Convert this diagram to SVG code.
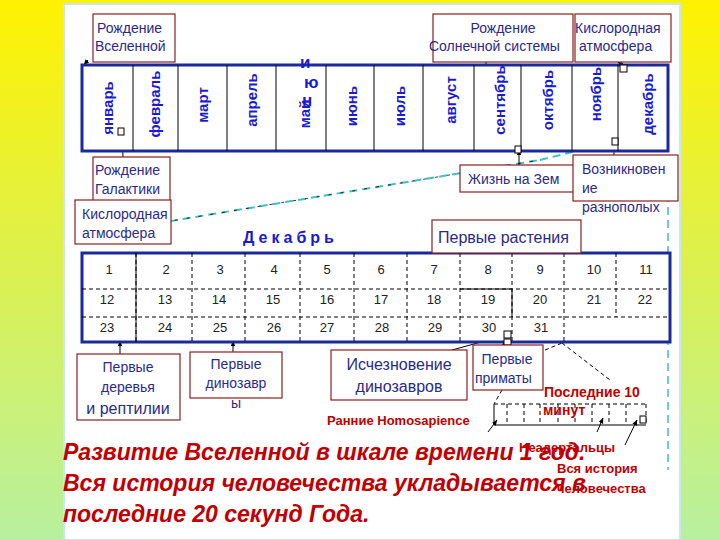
<svg xmlns="http://www.w3.org/2000/svg" width="720" height="540" viewBox="0 0 720 540">
<defs>
<linearGradient id="bg" x1="0" y1="0" x2="0" y2="1"><stop offset="0" stop-color="#fff200"/><stop offset="1" stop-color="#b8f0a0"/></linearGradient>
<marker id="ar" viewBox="0 0 10 10" refX="9" refY="5" markerWidth="6" markerHeight="6" orient="auto"><path d="M0,1 L10,5 L0,9 z" fill="#000"/></marker>
<style>
.box{fill:#fff;stroke:#8b2020;stroke-width:1.2}
.lb{font-family:"Liberation Sans",sans-serif;font-size:14px;fill:#2a2a8a}
.mo{font-family:"Liberation Sans",sans-serif;font-size:15px;font-weight:bold;fill:#1a1ad0}
.dn{font-family:"Liberation Sans",sans-serif;font-size:13px;fill:#222}
.red{font-family:"Liberation Sans",sans-serif;font-weight:bold;fill:#c00000}
.big{font-family:"Liberation Sans",sans-serif;font-weight:bold;font-style:italic;font-size:23px;fill:#c00000}
.thin{stroke:#000;stroke-width:1;fill:none}
.dash{stroke:#000;stroke-width:1;stroke-dasharray:4,3;fill:none}
</style>
</defs>
<rect width="720" height="540" fill="url(#bg)"/>
<rect x="64" y="4" width="616" height="536" fill="#fff" stroke="#c8e8f0" stroke-width="2"/>
<g id="connectors">
<path d="M80,236 L540,160 M540,160 L580,150" stroke="#40c0c0" stroke-width="2" stroke-dasharray="8,5" fill="none"/>
<path d="M80,236 L540,160" stroke="#000" stroke-width="0.8" stroke-dasharray="3,9" fill="none"/>
<path d="M668,155 L668,470" stroke="#40c0c0" stroke-width="1.5" stroke-dasharray="8,5" fill="none"/>
<line x1="88" y1="60" x2="84" y2="65" class="thin" marker-end="url(#ar)"/>
<line x1="123" y1="157" x2="122" y2="137" class="thin" marker-end="url(#ar)"/>
<line x1="486" y1="62" x2="486" y2="75" class="thin" marker-end="url(#ar)"/>
<line x1="618" y1="140" x2="618" y2="72" class="thin"/>
<line x1="627" y1="68" x2="618" y2="62" class="thin" marker-end="url(#ar)"/>
<line x1="519" y1="165" x2="519" y2="150" class="thin" marker-end="url(#ar)"/>
<line x1="614" y1="155" x2="614" y2="142" class="thin" marker-end="url(#ar)"/>
<line x1="476" y1="250" x2="481" y2="290" class="thin" marker-end="url(#ar)"/>
<line x1="120" y1="354" x2="120" y2="341" class="thin" marker-end="url(#ar)"/>
<line x1="233" y1="352" x2="233" y2="341" class="thin" marker-end="url(#ar)"/>
<line x1="452" y1="350" x2="503" y2="336" class="thin" marker-end="url(#ar)"/>
<line x1="504" y1="345" x2="505" y2="341" class="thin" marker-end="url(#ar)"/>
<line x1="545" y1="350" x2="562" y2="343" class="dash"/>
<line x1="562" y1="343" x2="610" y2="380" class="dash"/>
<line x1="502" y1="390" x2="494" y2="404" class="dash"/>
<line x1="488" y1="432" x2="497" y2="420" class="thin" marker-end="url(#ar)"/>
<line x1="597" y1="432" x2="603" y2="418" class="thin" marker-end="url(#ar)"/>
<line x1="625" y1="445" x2="637" y2="420" class="thin" marker-end="url(#ar)"/>
</g>
<g id="months">
<rect x="82" y="65" width="586" height="86" fill="#fff" stroke="#1a2a9a" stroke-width="3"/>
<path d="M133,65V151M178,65V151M227,65V151M276,65V151M326,65V151M374,65V151M423,65V151M474,65V151M521,65V151M572,65V151M618,65V151" class="thin"/>
<g class="mo">
<text transform="translate(113,108) rotate(-90)" text-anchor="middle">январь</text>
<text transform="translate(160,104) rotate(-90)" text-anchor="middle">февраль</text>
<text transform="translate(208,105) rotate(-90)" text-anchor="middle">март</text>
<text transform="translate(257,100) rotate(-90)" text-anchor="middle">апрель</text>
<text transform="translate(310,114) rotate(-90)" text-anchor="middle">май</text>
<text x="300" y="68" font-size="17">и</text><text x="304" y="88" font-size="17">ю</text><text x="302" y="106" font-size="17">н</text>
<text transform="translate(357,106) rotate(-90)" text-anchor="middle">июнь</text>
<text transform="translate(405,106) rotate(-90)" text-anchor="middle">июль</text>
<text transform="translate(456,100) rotate(-90)" text-anchor="middle">август</text>
<text transform="translate(505,100) rotate(-90)" text-anchor="middle">сентябрь</text>
<text transform="translate(553,100) rotate(-90)" text-anchor="middle">октябрь</text>
<text transform="translate(601,94) rotate(-90)" text-anchor="middle">ноябрь</text>
<text transform="translate(653,104) rotate(-90)" text-anchor="middle">декабрь</text>
</g>
<rect x="118" y="128" width="6" height="7" fill="#fff" stroke="#000"/>
<rect x="515" y="146" width="6" height="7" fill="#fff" stroke="#000"/>
<rect x="612" y="138" width="6" height="7" fill="#fff" stroke="#000"/>
<rect x="620" y="65" width="7" height="7" fill="#fff" stroke="#000"/>
</g>
<g id="days">
<rect x="82" y="253" width="588" height="89" fill="#fff" stroke="#1a2a9a" stroke-width="3"/>
<path d="M82,289H670M82,317H670" class="dash"/>
<path d="M136,253V342M192,253V342M245,253V342M300,253V342M354,253V342M407,253V342M460,253V342M512,253V342M564,253V342M616,253V317" class="dash"/>
<path d="M136,253V342M460,289H512V317" class="thin"/>
<g class="dn" text-anchor="middle">
<text x="109" y="274">1</text><text x="166" y="274">2</text><text x="220" y="274">3</text><text x="274" y="274">4</text><text x="327" y="274">5</text><text x="381" y="274">6</text><text x="434" y="274">7</text><text x="488" y="274">8</text><text x="540" y="274">9</text><text x="594" y="274">10</text><text x="646" y="274">11</text>
<text x="107" y="304">12</text><text x="165" y="304">13</text><text x="219" y="304">14</text><text x="273" y="304">15</text><text x="327" y="304">16</text><text x="381" y="304">17</text><text x="434" y="304">18</text><text x="488" y="304">19</text><text x="540" y="304">20</text><text x="594" y="304">21</text><text x="645" y="304">22</text>
<text x="107" y="332">23</text><text x="165" y="332">24</text><text x="220" y="332">25</text><text x="274" y="332">26</text><text x="327" y="332">27</text><text x="382" y="332">28</text><text x="435" y="332">29</text><text x="489" y="332">30</text><text x="541" y="332">31</text>
</g>
<rect x="504" y="331" width="7" height="7" fill="#fff" stroke="#000"/>
<rect x="504" y="339" width="7" height="6" fill="#fff" stroke="#000"/>
</g>
<g id="n-vselennoy"><rect x="93" y="14" width="82" height="48" class="box"/><text x="97" y="33" class="lb">Рождение</text><text x="95" y="51" class="lb">Вселенной</text></g>
<g id="n-solnech"><rect x="433" y="14" width="140" height="48" class="box"/><text x="503" y="33" class="lb" text-anchor="middle">Рождение</text><text x="429" y="51" class="lb">Солнечной системы</text></g>
<g id="n-kislorod1"><rect x="575" y="14" width="96" height="48" class="box"/><text x="575" y="33" class="lb">Кислородная</text><text x="579" y="51" class="lb">атмосфера</text></g>
<g id="n-galakt"><rect x="93" y="157" width="77" height="44" class="box"/><text x="95" y="175" class="lb">Рождение</text><text x="95" y="194" class="lb">Галактики</text></g>
<g id="n-kislorod2"><rect x="75" y="200" width="96" height="44" class="box"/><text x="82" y="219" class="lb">Кислородная</text><text x="82" y="238" class="lb">атмосфера</text></g>
<g id="n-zhizn"><rect x="460" y="165" width="115" height="27" class="box"/><text x="468" y="184" class="lb">Жизнь на Зем</text></g>
<g id="n-raznopol"><rect x="573" y="155" width="105" height="46" class="box"/><text x="582" y="174" class="lb">Возникновен</text><text x="582" y="193" class="lb">ие</text><text x="582" y="212" class="lb">разнополых</text></g>
<g id="n-rasten"><rect x="432" y="220" width="149" height="33" class="box"/><text x="438" y="243" class="lb" style="font-size:16px">Первые растения</text></g>
<text x="243" y="243" class="mo" style="font-size:16px;letter-spacing:4px">Декабрь</text>
<g id="n-derev"><rect x="77" y="354" width="103" height="66" class="box"/><text x="128" y="372" class="lb" text-anchor="middle">Первые</text><text x="128" y="392" class="lb" text-anchor="middle">деревья</text><text x="128" y="414" class="lb" text-anchor="middle" style="font-size:16px">и рептилии</text></g>
<g id="n-dino"><rect x="190" y="352" width="92" height="46" class="box"/><text x="236" y="369" class="lb" text-anchor="middle">Первые</text><text x="236" y="388" class="lb" text-anchor="middle">динозавр</text><text x="236" y="408" class="lb" text-anchor="middle">ы</text></g>
<g id="n-ischez"><rect x="331" y="350" width="136" height="50" class="box"/><text x="399" y="370" class="lb" text-anchor="middle" style="font-size:16px">Исчезновение</text><text x="399" y="392" class="lb" text-anchor="middle" style="font-size:16px">динозавров</text></g>
<g id="n-primaty"><rect x="473" y="345" width="70" height="45" class="box"/><text x="507" y="364" class="lb" text-anchor="middle">Первые</text><text x="475" y="383" class="lb">приматы</text></g>
<g id="scale10">
<path d="M494,404V425H646" class="thin"/>
<path d="M494,404H646" class="dash"/>
<path d="M507,404V425M524,404V425M540,404V425M558,404V425M575,404V425M592,404V425M609,404V425M626,404V425M646,404V425" class="dash"/>
<rect x="640" y="416" width="6" height="7" fill="#fff" stroke="#000"/>
</g>
<text x="544" y="397" class="red" font-size="14">Последние 10</text>
<text x="543" y="415" class="red" font-size="14">минут</text>
<text x="327" y="425" class="red" font-size="13">Ранние  Homosapience</text>
<text x="519" y="452" class="red" font-size="13">Неадертальцы</text>
<text x="557" y="473" class="red" font-size="13">Вся история</text>
<text x="557" y="493" class="red" font-size="13">человечества</text>
<text x="63" y="460" class="big">Развитие Вселенной в шкале времени 1 год.</text>
<text x="63" y="491" class="big">Вся история человечества укладывается в</text>
<text x="63" y="522" class="big">последние 20 секунд Года.</text>
</svg>
